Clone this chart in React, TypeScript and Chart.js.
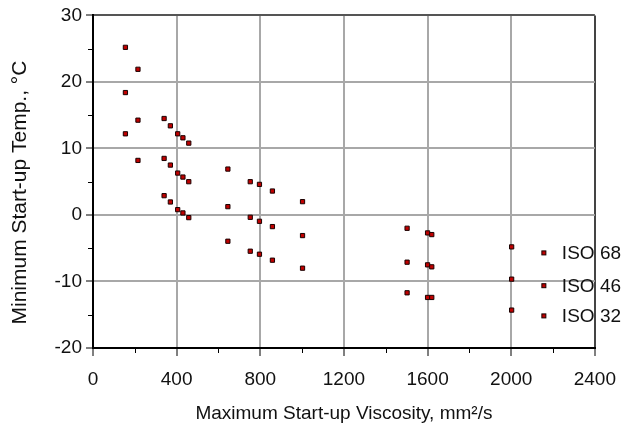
import React, { useEffect, useRef } from "react";
import { Chart, registerables } from "chart.js";

Chart.register(...registerables);

// ---- data ----
const seriesLabels = ["ISO 68", "ISO 46", "ISO 32"];
const viscosity = [155, 215, 340, 370, 405, 430, 458, 645, 752, 796, 858, 1002, 1502, 1600, 1620, 2002];
const iso68Temp = [25.2, 21.9, 14.5, 13.4, 12.2, 11.6, 10.8, 6.9, 5.0, 4.6, 3.6, 2.0, -2.0, -2.7, -2.95, -4.8];
const iso46Temp = [18.4, 14.25, 8.5, 7.5, 6.3, 5.7, 5.0, 1.25, -0.35, -0.95, -1.75, -3.1, -7.1, -7.5, -7.8, -9.65];
const iso32Temp = [12.2, 8.2, 2.9, 1.95, 0.8, 0.3, -0.4, -3.95, -5.45, -5.9, -6.8, -8.0, -11.7, -12.4, -12.4, -14.3];
const xMinorTicks = [200, 600, 1000, 1400, 1800, 2200];
const yMinorTicks = [25, 15, 5, -5, -15];
const xTitle = "Maximum Start-up Viscosity, mm²/s";
const yTitle = "Minimum Start-up Temp., °C";

const FONT = "'Liberation Sans', Arial, sans-serif";

const toPoints = (ys: number[]) => viscosity.map((x, i) => ({ x, y: ys[i] }));

const decorPlugin = {
  id: "decor",
  afterDraw(chart: any) {
    const { ctx, chartArea, scales } = chart;
    const xs = scales.x;
    const ys = scales.y;
    ctx.save();
    // minor ticks
    ctx.strokeStyle = "#000";
    ctx.lineWidth = 1;
    ctx.beginPath();
    xMinorTicks.forEach((v) => {
      const px = Math.round(xs.getPixelForValue(v)) + 0.5;
      ctx.moveTo(px, chartArea.bottom);
      ctx.lineTo(px, chartArea.bottom + 5);
    });
    yMinorTicks.forEach((v) => {
      const py = Math.round(ys.getPixelForValue(v)) + 0.5;
      ctx.moveTo(chartArea.left - 5, py);
      ctx.lineTo(chartArea.left, py);
    });
    ctx.stroke();

    // legend inside plot
    const rowY = [237.5, 270.3, 300.5];
    chart.data.datasets.forEach((ds: any, i: number) => {
      const my = chartArea.top + rowY[i];
      const mx = chartArea.right - 51;
      ctx.fillStyle = "#c00000";
      ctx.strokeStyle = "#1a0000";
      ctx.lineWidth = 1;
      ctx.fillRect(mx - 2, my - 2, 4, 4);
      ctx.strokeRect(mx - 2, my - 2, 4, 4);
      ctx.fillStyle = "#111";
      ctx.font = "19px " + FONT;
      ctx.textBaseline = "alphabetic";
      ctx.textAlign = "left";
      ctx.fillText(ds.label, chartArea.right - 33, my + 6.5);
    });
    ctx.restore();
  },
};

export default function App() {
  const ref = useRef<HTMLCanvasElement | null>(null);

  useEffect(() => {
    if (!ref.current) return;
    const pointStyle = {
      showLine: false,
      pointStyle: "rect" as const,
      pointRadius: 3,
      pointBackgroundColor: "#c00000",
      pointBorderColor: "#1a0000",
      pointBorderWidth: 1,
      backgroundColor: "#c00000",
      borderColor: "#1a0000",
    };
    const chart = new Chart(ref.current, {
      type: "scatter",
      data: {
        datasets: [
          { label: seriesLabels[0], data: toPoints(iso68Temp), ...pointStyle },
          { label: seriesLabels[1], data: toPoints(iso46Temp), ...pointStyle },
          { label: seriesLabels[2], data: toPoints(iso32Temp), ...pointStyle },
        ],
      },
      options: {
        animation: false,
        responsive: false,
        devicePixelRatio: 1,
        layout: { padding: { top: 13, right: 33, left: 0, bottom: 0 } },
        plugins: {
          legend: { display: false },
          tooltip: { enabled: false },
        },
        scales: {
          x: {
            type: "linear",
            min: 0,
            max: 2400,
            afterFit: (s: any) => {
              s.height = 82;
            },
            ticks: {
              stepSize: 400,
              color: "#111",
              padding: 12,
              maxRotation: 0,
              font: { family: FONT, size: 19 },
              callback: (v: any) => String(v),
            },
            grid: {
              color: (c: any) => (c.tick && c.tick.value === 2400 ? "#444" : "#a8a8a8"),
              lineWidth: 2,
              tickColor: "#000",
              tickWidth: 1,
              tickLength: 8,
            },
            border: { color: "#000", width: 2 },
            title: {
              display: true,
              text: xTitle,
              color: "#111",
              font: { family: FONT, size: 19 },
              padding: { top: 0, bottom: 5 },
            },
          },
          y: {
            type: "linear",
            min: -20,
            max: 30,
            afterFit: (s: any) => {
              s.width = 93;
            },
            ticks: {
              stepSize: 10,
              color: "#111",
              padding: 4,
              font: { family: FONT, size: 19 },
              callback: (v: any) => String(v),
            },
            grid: {
              color: (c: any) => (c.tick && c.tick.value === 30 ? "#555" : "#a8a8a8"),
              lineWidth: 2,
              tickColor: "#000",
              tickWidth: 1,
              tickLength: 7,
            },
            border: { color: "#000", width: 2 },
            title: {
              display: true,
              text: yTitle + "\u00a0\u00a0\u00a0\u2009",
              color: "#111",
              font: { family: FONT, size: 21 },
              padding: { top: 8, bottom: 0 },
            },
          },
        },
      },
      plugins: [decorPlugin],
    });
    return () => chart.destroy();
  }, []);

  return (
    <div style={{ position: "absolute", left: 0, top: 0, width: 628, height: 430, background: "#fff" }}>
      <canvas ref={ref} width={628} height={430} style={{ display: "block" }} />
    </div>
  );
}
